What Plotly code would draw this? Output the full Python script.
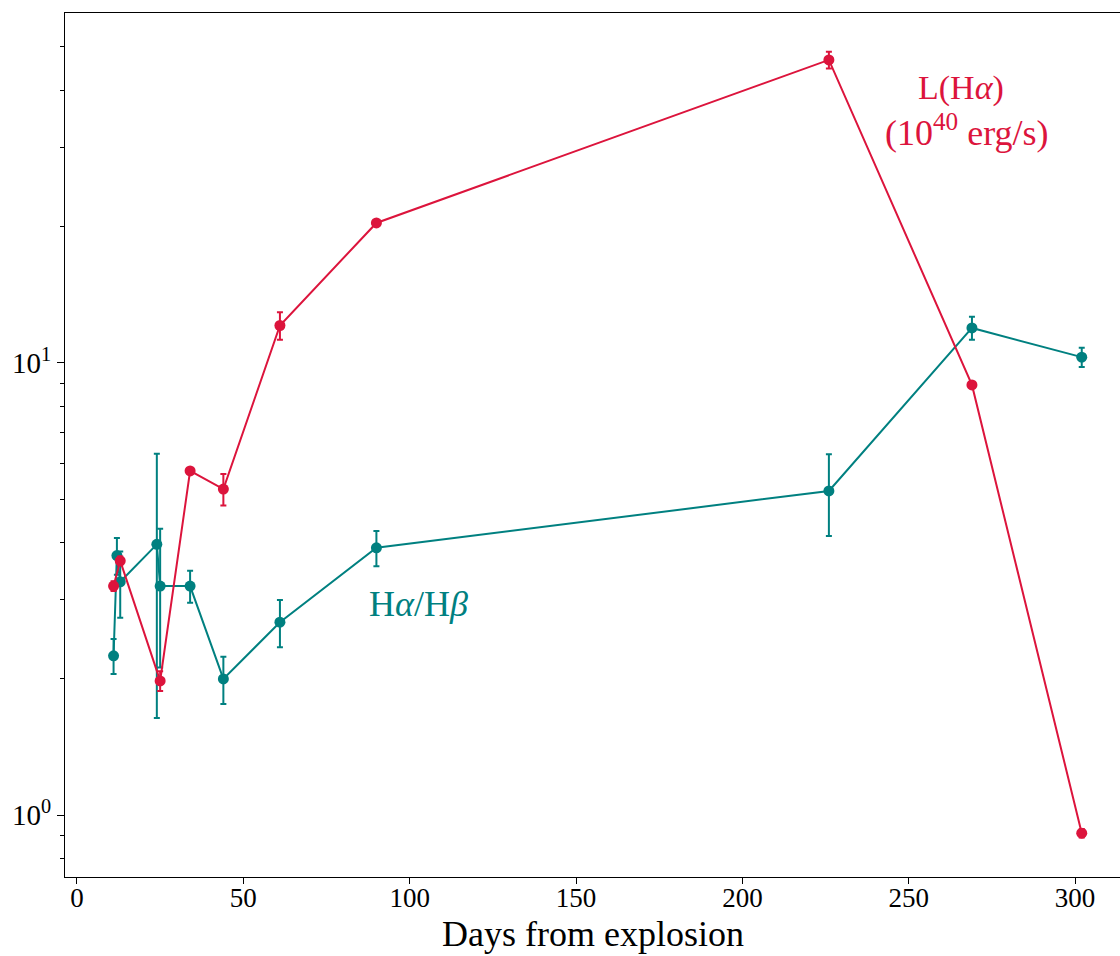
import plotly.graph_objects as go

# Data
days_lha = [11, 13, 25, 34, 44, 61, 90, 226, 269, 302]
lha = [3.21, 3.65, 1.98, 5.77, 5.26, 12.1, 20.4, 46.8, 8.94, 0.912]
lha_err = [0.08, 0.08, 0.10, 0.05, 0.42, 0.85, 0.2, 2.0, 0.1, 0.02]

days_dec = [11, 12, 13, 24, 25, 34, 44, 61, 90, 226, 269, 302]
dec = [2.25, 3.75, 3.28, 3.97, 3.21, 3.21, 2.00, 2.67, 3.90, 5.21, 11.95, 10.3]
dec_err = [0.20, 0.35, 0.55, 2.33, 1.09, 0.26, 0.24, 0.32, 0.35, 1.07, 0.70, 0.50]

RED = "#DC143C"
TEAL = "#008080"
FONT = "Liberation Serif"

fig = go.Figure()
fig.add_trace(go.Scatter(
    x=days_dec, y=dec, mode="lines+markers",
    line=dict(color=TEAL, width=2),
    marker=dict(color=TEAL, size=11),
    error_y=dict(type="data", array=dec_err, color=TEAL, thickness=2, width=3),
    showlegend=False,
))
fig.add_trace(go.Scatter(
    x=days_lha, y=lha, mode="lines+markers",
    line=dict(color=RED, width=2),
    marker=dict(color=RED, size=11),
    error_y=dict(type="data", array=lha_err, color=RED, thickness=2, width=3),
    showlegend=False,
))

fig.add_annotation(x=265.7, y=1.608, xref="x", yref="y", text="L(H<i>α</i>)",
                   showarrow=False, font=dict(family=FONT, size=34, color=RED))
fig.add_annotation(x=267.5, y=1.515, xref="x", yref="y", text="(10<sup>40</sup> erg/s)",
                   showarrow=False, font=dict(family=FONT, size=36, color=RED))
fig.add_annotation(x=102.5, y=0.466, xref="x", yref="y", text="H<i>α</i>/H<i>β</i>",
                   showarrow=False, font=dict(family=FONT, size=36, color=TEAL))
# x-axis title
fig.add_annotation(x=0.5, y=-0.0660, xref="paper", yref="paper", text="Days from explosion",
                   showarrow=False, yanchor="middle", xanchor="center",
                   font=dict(family=FONT, size=36, color="black"))

minor_vals = [0.8, 0.9] + [v for v in range(2, 10)] + [v * 10 for v in range(2, 6)]

fig.update_layout(
    width=1120, height=956,
    margin=dict(l=65, r=0, t=13, b=79),
    plot_bgcolor="white", paper_bgcolor="white",
    font=dict(family=FONT, color="black"),
    xaxis=dict(
        range=[-3.6, 313.5], tickvals=[0, 50, 100, 150, 200, 250, 300],
        ticks="outside", ticklen=6, tickcolor="black", showgrid=False, zeroline=False,
        showline=True, linecolor="black", linewidth=1, mirror=True,
        tickfont=dict(family=FONT, size=27), ticklabelstandoff=-9,
    ),
    yaxis=dict(
        type="log", range=[-0.137, 1.774],
        tickvals=[1, 10], ticktext=["10<sup>0</sup>", "10<sup>1</sup>"],
        ticks="outside", ticklen=7, tickcolor="black", showgrid=False, zeroline=False,
        showline=True, linecolor="black", linewidth=1, mirror=True,
        tickfont=dict(family=FONT, size=29),
        minor=dict(tickvals=minor_vals, ticks="outside", ticklen=4, tickcolor="black", showgrid=False),
    ),
)

fig.write_html("out.html")
